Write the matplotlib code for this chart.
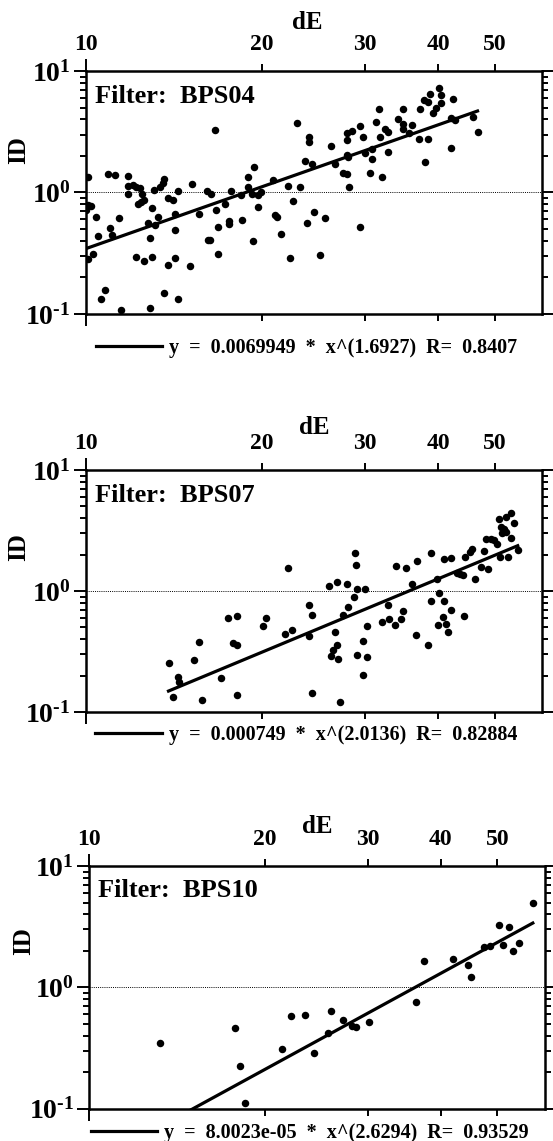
import matplotlib.pyplot as plt
import numpy as np
from matplotlib.ticker import LogLocator, NullFormatter

plt.rcParams['font.family'] = 'Liberation Serif'
plt.rcParams['font.weight'] = 'bold'
plt.rcParams['mathtext.fontset'] = 'custom'
plt.rcParams['mathtext.rm'] = 'Liberation Serif:bold'
plt.rcParams['mathtext.it'] = 'Liberation Serif:bold'
plt.rcParams['mathtext.bf'] = 'Liberation Serif:bold'

# ---- data (dE, ID) ----
de_04 = [10.1, 10.1, 10.2, 10.0, 10.4, 10.1, 10.3, 10.5, 10.6, 10.8, 11.0, 11.1, 10.9, 11.2, 11.4,
         11.5, 11.8, 11.8, 11.8, 12.05, 12.2, 12.4, 12.3, 12.5, 12.6, 12.45, 12.2, 12.6, 13.0, 12.8,
         12.9, 13.0, 12.9, 13.1, 13.3, 13.15, 13.4, 13.55, 13.6, 13.6, 13.8, 13.8, 14.1, 14.2, 14.2,
         14.2, 14.35, 14.35, 15.1, 15.2, 15.6, 16.1, 16.4, 16.15, 16.3, 16.6, 16.7, 16.8, 16.8, 17.3,
         17.6, 17.6, 17.7, 18.45, 18.5, 18.9, 18.95, 19.2, 19.3, 19.4, 19.7, 19.7, 19.95, 20.9, 21.05,
         21.2, 21.6, 22.2, 22.3, 22.6, 22.95, 23.2, 23.7, 23.9, 24.1, 24.1, 24.4, 24.5, 25.1, 25.6,
         26.2, 26.7, 27.5, 27.9, 27.9, 27.9, 28.5, 27.9, 28.1, 28.2, 29.4, 29.4, 29.8, 30.05, 30.6,
         30.8, 30.8, 31.3, 31.7, 31.8, 32.1, 32.5, 32.8, 32.8, 34.2, 34.85, 34.85, 34.9, 35.6, 36.1,
         37.15, 37.2, 37.9, 38.0, 38.5, 38.5, 38.7, 39.2, 39.6, 40.2, 40.4, 40.5, 42.0, 42.1, 42.4,
         42.7, 45.9, 46.7]
id_04 = [1.35, 0.787, 0.777, 0.716, 0.631, 0.283, 0.309, 0.440, 0.132, 0.157, 0.512, 0.451, 1.43, 1.39, 0.618,
         0.108, 1.37, 1.13, 0.98, 1.15, 1.11, 1.08, 0.797, 0.98, 0.865, 0.838, 0.294, 0.272, 0.748, 0.556,
         0.424, 0.292, 0.112, 1.05, 0.631, 0.538, 1.11, 1.19, 1.29, 0.150, 0.252, 0.904, 0.865, 0.671, 0.490,
         0.290, 0.132, 1.03, 0.249, 1.17, 0.659, 1.03, 0.98, 0.405, 0.405, 3.26, 0.716, 0.521, 0.313, 0.811,
         0.581, 0.552, 1.03, 0.96, 0.592, 1.11, 1.35, 0.98, 0.397, 1.61, 0.762, 0.96, 1.0, 1.26, 0.651,
         0.631, 0.454, 1.13, 0.290, 0.849, 3.70, 1.11, 1.82, 0.562, 2.84, 2.61, 1.73, 0.693, 0.305, 0.611,
         2.41, 1.73, 1.46, 1.41, 2.70, 3.06, 3.22, 2.05, 1.97, 1.10, 0.521, 3.52, 2.84, 2.12, 1.46,
         1.88, 2.30, 3.77, 4.82, 2.87, 1.35, 3.36, 3.16, 2.16, 4.06, 4.91, 3.63, 3.30, 3.06, 3.58,
         2.78, 4.91, 5.75, 1.79, 5.57, 2.73, 6.41, 4.47, 4.98, 7.18, 6.32, 5.47, 4.12, 2.33, 5.83,
         3.94, 4.20, 3.16]

de_07 = [13.85, 14.1, 14.35, 14.45, 15.3, 15.6, 15.8, 17.0, 17.5, 18.1, 17.85, 18.1, 18.1, 20.05, 20.3,
         21.9, 22.5, 22.2, 24.1, 24.1, 24.4, 24.4, 26.0, 26.85, 26.7, 26.85, 26.5, 26.2, 27.0, 27.15,
         27.9, 28.8, 28.9, 29.1, 30.05, 28.7, 28.1, 27.5, 29.1, 30.2, 29.8, 29.8, 30.25, 32.1, 32.8,
         33.0, 33.8, 34.6, 34.9, 33.9, 35.2, 36.1, 36.8, 36.7, 38.4, 38.9, 39.8, 38.9, 40.1, 41.0,
         42.1, 40.8, 39.9, 41.3, 41.6, 44.3, 40.9, 42.0, 43.0, 43.65, 44.1, 44.5, 45.3, 45.7, 46.2,
         47.4, 47.85, 48.2, 48.7, 49.2, 49.8, 50.4, 51.1, 52.6, 50.8, 52.2, 53.2, 53.9, 51.2, 51.9,
         51.4, 52.3, 53.3, 54.7]
id_07 = [0.256, 0.133, 0.195, 0.177, 0.267, 0.379, 0.126, 0.191, 0.598, 0.621, 0.374, 0.360, 0.137, 0.514, 0.598,
         0.444, 0.473, 1.55, 0.425, 0.762, 0.637, 0.144, 1.10, 1.19, 0.458, 0.356, 0.324, 0.290, 0.272, 0.121,
         1.15, 2.06, 1.63, 1.03, 1.03, 0.892, 0.738, 0.637, 0.298, 0.285, 0.384, 0.201, 0.514, 0.555, 0.771,
         0.583, 0.520, 0.583, 0.679, 1.61, 1.56, 1.15, 1.77, 0.430, 0.356, 2.06, 1.26, 0.822, 0.962, 0.822,
         0.692, 0.610, 0.527, 0.537, 0.458, 0.618, 1.83, 1.88, 1.42, 1.39, 1.36, 1.91, 2.10, 2.24, 1.26,
         1.58, 2.13, 2.71, 1.53, 2.71, 2.62, 2.46, 1.91, 1.91, 3.96, 4.09, 4.44, 3.67, 3.38, 3.23,
         3.01, 3.07, 2.74, 2.17]

de_10 = [13.2, 17.8, 18.15, 18.5, 21.4, 22.2, 23.4, 24.3, 25.6, 25.9, 27.2, 28.2, 28.6, 30.1, 36.3,
         37.5, 42.0, 44.6, 45.1, 47.5, 48.5, 50.4, 52.4, 51.2, 53.1, 54.5, 57.5]
id_10 = [0.349, 0.461, 0.227, 0.111, 0.311, 0.580, 0.590, 0.288, 0.417, 0.641, 0.537, 0.479, 0.473, 0.520, 0.761,
         1.66, 1.71, 1.53, 1.21, 2.14, 2.20, 3.27, 3.17, 2.24, 2.01, 2.31, 5.0]

filters = ['BPS04', 'BPS07', 'BPS10']
fit_a = [0.0069949, 0.000749, 8.0023e-05]
fit_b = [1.6927, 2.0136, 2.6294]
fit_a_txt = ['0.0069949', '0.000749', '8.0023e-05']
fit_b_txt = ['1.6927', '2.0136', '2.6294']
fit_r_txt = ['0.8407', '0.82884', '0.93529']

x_major = [10]
x_minor = [20, 30, 40, 50]
y_major = [0.1, 1, 10]
y_labels = [r'$10^{\text{-}1}$', '$10^{0}$', '$10^{1}$']

datasets = [(de_04, id_04), (de_07, id_07), (de_10, id_10)]

# layout of each panel
rects = [[0.155, 0.7248, 0.826, 0.213],
         [0.155, 0.376, 0.826, 0.2121],
         [0.1613, 0.0283, 0.824, 0.2127]]
de_pos = [(0.484, 1.20), (0.50, 1.176), (0.50, 1.161)]
id_pos = [(-0.1475, 0.675), (-0.1475, 0.68), (-0.145, 0.692)]
filt_pos = [(0.02, 0.868), (0.02, 0.869), (0.02, 0.873)]
leg_pos = [(0.483, -0.141), (0.483, -0.095), (0.484, -0.099)]

fig = plt.figure(figsize=(5.53, 11.41), dpi=100)

for i in range(3):
    ax = fig.add_axes(rects[i])
    x, y = datasets[i]
    ax.set_xscale('log')
    ax.set_yscale('log')

    ax.plot(x, y, 'o', color='black', ms=5.4, mec='black', mew=0)
    xs = np.array([min(x), max(x)])
    lbl = 'y  =  %s  *  x^(%s)  R=  %s' % (fit_a_txt[i], fit_b_txt[i], fit_r_txt[i])
    ax.plot(xs, fit_a[i] * xs ** fit_b[i], color='black', lw=2.3, label=lbl)
    ax.axhline(1, color='black', lw=0.7, ls=(0, (1, 1.2)))

    ax.set_xlim(10, 60.3)
    ax.set_ylim(0.1, 10)

    ax.set_xticks(x_major)
    ax.set_xticklabels([str(v) for v in x_major])
    ax.set_xticks(x_minor, minor=True)
    ax.set_xticklabels([str(v) for v in x_minor], minor=True)
    ax.tick_params(axis='x', which='both', direction='out', top=True, bottom=True,
                   labeltop=True, labelbottom=False, labelsize=17, width=1.4)
    ax.tick_params(axis='x', which='major', length=8.6, pad=2.9)
    ax.tick_params(axis='x', which='minor', length=4.7, pad=6.8)

    ax.set_yticks(y_major)
    ax.set_yticklabels(y_labels)
    ax.yaxis.set_minor_locator(LogLocator(base=10, subs=np.arange(2, 10)))
    ax.yaxis.set_minor_formatter(NullFormatter())
    ax.tick_params(axis='y', which='both', direction='out', left=True, right=True,
                   labelleft=True, labelright=False, labelsize=20, width=1.4)
    ax.tick_params(axis='y', which='major', length=8.4, pad=2.5)
    ax.tick_params(axis='y', which='minor', length=4.5)

    for s in ax.spines.values():
        s.set_linewidth(1.8)

    ax.text(de_pos[i][0], de_pos[i][1], 'dE', transform=ax.transAxes,
            ha='center', va='center', fontsize=18)
    ax.text(id_pos[i][0], id_pos[i][1], 'ID', transform=ax.transAxes, rotation=90,
            ha='center', va='center', fontsize=18)
    ax.text(filt_pos[i][0], filt_pos[i][1], 'Filter:  ' + filters[i], transform=ax.transAxes,
            ha='left', va='baseline', fontsize=19)
    ax.legend(loc='center', bbox_to_anchor=leg_pos[i], frameon=False, fontsize=14.5,
              handlelength=3.3, handletextpad=0.35, borderaxespad=0, borderpad=0)

fig.savefig('out.png', dpi=100)
